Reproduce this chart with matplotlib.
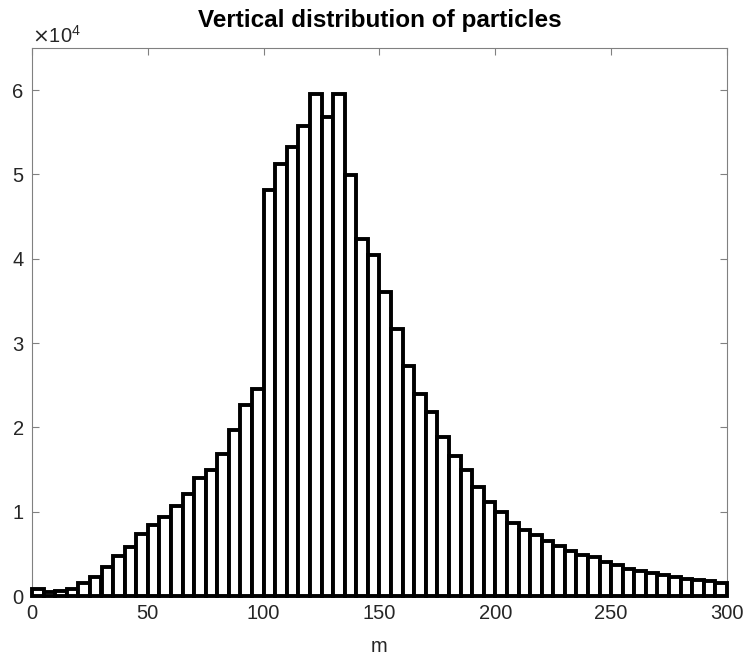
import matplotlib
matplotlib.use("Agg")
import matplotlib.pyplot as plt
from matplotlib.ticker import FuncFormatter

plt.rcParams['font.family'] = ['Liberation Sans', 'DejaVu Sans']

# Histogram: bin edges (m) and counts per 5 m bin
bin_width = 5
bin_starts = list(range(0, 300, 5))
counts = [
    850, 430, 630, 830, 1540, 2200, 3400, 4780, 5850, 7350,
    8420, 9400, 10700, 12100, 13950, 14950, 16900, 19700, 22600, 24550,
    48100, 51300, 53300, 55700, 59600, 56800, 59600, 49900, 42300, 40400,
    36000, 31700, 27300, 24000, 21800, 18900, 16600, 14950, 12900, 11100,
    10000, 8600, 7830, 7230, 6560, 5970, 5370, 4860, 4580, 3990,
    3710, 3200, 2920, 2680, 2490, 2210, 2020, 1900, 1730, 1580,
]
x_ticks = [0, 50, 100, 150, 200, 250, 300]
y_ticks = [0, 10000, 20000, 30000, 40000, 50000, 60000]

fig = plt.figure(figsize=(7.44, 6.61), dpi=100)
ax = fig.add_axes([32/744, 1-596/661, 695/744, 548/661])

ax.bar(bin_starts, counts, width=bin_width, align='edge',
       facecolor='white', edgecolor='black', linewidth=2.8, clip_on=False, zorder=3)

ax.set_xlim(0, 300)
ax.set_ylim(0, 65000)
ax.set_xticks(x_ticks)
ax.set_yticks(y_ticks)
ax.yaxis.set_major_formatter(FuncFormatter(lambda v, p: f"{v/1e4:g}"))

axcol = '#262626'
for s in ax.spines.values():
    s.set_color('#808080')
    s.set_linewidth(0.8)
ax.tick_params(direction='in', top=True, right=True, length=5, width=0.8,
               color='#808080', labelcolor=axcol, labelsize=14.5, pad=6)

ax.text(0.0, 1.003, r'$\times\mathregular{10^{4}}$', transform=ax.transAxes,
        fontsize=14.5, color=axcol, ha='left', va='bottom')
ax.set_title('Vertical distribution of particles', fontsize=17.5, fontweight='bold',
             color='black', pad=15)
ax.set_xlabel('m', fontsize=14.5, color=axcol, labelpad=10)

fig.savefig('out.png', dpi=100)
